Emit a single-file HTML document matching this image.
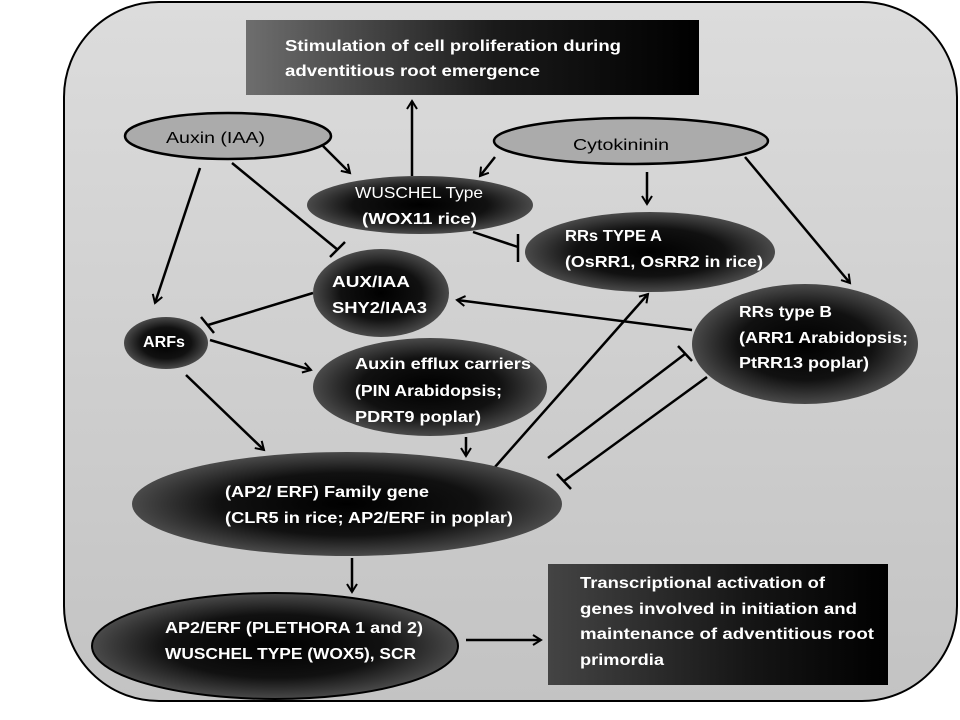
<!DOCTYPE html>
<html><head><meta charset="utf-8"><style>html,body{margin:0;padding:0;background:#fff;width:960px;height:720px;overflow:hidden}</style></head>
<body>
<svg width="960" height="720" viewBox="0 0 960 720" xmlns="http://www.w3.org/2000/svg" font-family="'Liberation Sans', sans-serif">
<defs>
<linearGradient id="bg" x1="0" y1="0" x2="0" y2="1"><stop offset="0" stop-color="#dcdcdc"/><stop offset="1" stop-color="#c3c3c3"/></linearGradient>
<linearGradient id="box" x1="0" y1="0" x2="1" y2="0"><stop offset="0" stop-color="#6e6e6e"/><stop offset="0.55" stop-color="#1a1a1a"/><stop offset="1" stop-color="#000"/></linearGradient>
<linearGradient id="box2" x1="0" y1="0" x2="1" y2="0"><stop offset="0" stop-color="#444"/><stop offset="0.6" stop-color="#151515"/><stop offset="1" stop-color="#000"/></linearGradient>
<radialGradient id="dk" cx="0.5" cy="0.5" r="0.5"><stop offset="0" stop-color="#000"/><stop offset="0.6" stop-color="#111"/><stop offset="1" stop-color="#4a4a4a"/></radialGradient>
<marker id="ar" markerWidth="12" markerHeight="12" refX="9" refY="6" orient="auto" markerUnits="userSpaceOnUse"><path d="M1,1 L9,6 L1,11" fill="none" stroke="#000" stroke-width="2"/></marker>
</defs>
<rect x="64" y="2" width="893" height="699" rx="95" ry="95" fill="url(#bg)" stroke="#000" stroke-width="2"/>
<rect x="246" y="20" width="453" height="75" fill="url(#box)"/>
<rect x="548" y="564" width="340" height="121" fill="url(#box2)"/>

<g stroke="#000" stroke-width="2.5" fill="none">
<line x1="323" y1="146" x2="350" y2="173" marker-end="url(#ar)"/>
<line x1="495" y1="157" x2="480" y2="176" marker-end="url(#ar)"/>
<line x1="412" y1="176" x2="412" y2="101" marker-end="url(#ar)"/>
<line x1="647" y1="172" x2="647" y2="204" marker-end="url(#ar)"/>
<line x1="745" y1="157" x2="850" y2="283" marker-end="url(#ar)"/>
<line x1="473" y1="232" x2="518" y2="247"/><line x1="518" y1="234" x2="518" y2="262"/>
<line x1="232" y1="163" x2="338" y2="250"/><line x1="330" y1="257" x2="345" y2="242"/>
<line x1="200" y1="168" x2="155" y2="303" marker-end="url(#ar)"/>
<line x1="313" y1="293" x2="208" y2="325"/><line x1="201" y1="317" x2="214" y2="333"/>
<line x1="210" y1="340" x2="311" y2="370" marker-end="url(#ar)"/>
<line x1="186" y1="375" x2="264" y2="450" marker-end="url(#ar)"/>
<line x1="692" y1="330" x2="457" y2="300" marker-end="url(#ar)"/>
<line x1="495" y1="467" x2="648" y2="294" marker-end="url(#ar)"/>
<line x1="548" y1="458" x2="685" y2="354"/><line x1="678" y1="346" x2="692" y2="361"/>
<line x1="707" y1="377" x2="564" y2="481"/><line x1="557" y1="474" x2="571" y2="489"/>
<line x1="466" y1="437" x2="466" y2="456" marker-end="url(#ar)"/>
<line x1="352" y1="558" x2="352" y2="592" marker-end="url(#ar)"/>
<line x1="466" y1="640" x2="541" y2="640" marker-end="url(#ar)"/>
</g>

<ellipse cx="228" cy="136" rx="103" ry="23" fill="#ababab" stroke="#000" stroke-width="2.5"/>
<ellipse cx="631" cy="141" rx="137" ry="23" fill="#ababab" stroke="#000" stroke-width="2.5"/>
<ellipse cx="420" cy="205" rx="113" ry="29" fill="url(#dk)"/>
<ellipse cx="650" cy="252" rx="125" ry="40" fill="url(#dk)"/>
<ellipse cx="381" cy="293" rx="68" ry="44" fill="url(#dk)"/>
<ellipse cx="166" cy="343" rx="42" ry="26" fill="url(#dk)"/>
<ellipse cx="430" cy="387" rx="117" ry="49" fill="url(#dk)"/>
<ellipse cx="805" cy="344" rx="113" ry="60" fill="url(#dk)"/>
<ellipse cx="347" cy="504" rx="215" ry="52" fill="url(#dk)"/>
<ellipse cx="275" cy="646" rx="183" ry="53" fill="url(#dk)" stroke="#000" stroke-width="2"/>

<g font-size="16" lengthAdjust="spacingAndGlyphs">
<text x="166" y="143" textLength="99" lengthAdjust="spacingAndGlyphs" fill="#000">Auxin (IAA)</text>
<text x="573" y="150" textLength="96" lengthAdjust="spacingAndGlyphs" fill="#000">Cytokininin</text>
<g fill="#fff">
<text x="355" y="198" textLength="128" lengthAdjust="spacingAndGlyphs">WUSCHEL Type</text>
<g font-weight="bold">
<text x="285" y="51" textLength="336" lengthAdjust="spacingAndGlyphs">Stimulation of cell proliferation during</text>
<text x="285" y="76" textLength="255" lengthAdjust="spacingAndGlyphs">adventitious root emergence</text>
<text x="362" y="224" textLength="115" lengthAdjust="spacingAndGlyphs">(WOX11 rice)</text>
<text x="565" y="241" textLength="97" lengthAdjust="spacingAndGlyphs">RRs TYPE A</text>
<text x="565" y="267" textLength="198" lengthAdjust="spacingAndGlyphs">(OsRR1, OsRR2 in rice)</text>
<text x="332" y="287" textLength="78" lengthAdjust="spacingAndGlyphs">AUX/IAA</text>
<text x="332" y="313" textLength="95" lengthAdjust="spacingAndGlyphs">SHY2/IAA3</text>
<text x="143" y="347" textLength="42" lengthAdjust="spacingAndGlyphs">ARFs</text>
<text x="355" y="369" textLength="176" lengthAdjust="spacingAndGlyphs">Auxin efflux carriers</text>
<text x="355" y="396" textLength="147" lengthAdjust="spacingAndGlyphs">(PIN Arabidopsis;</text>
<text x="355" y="422" textLength="126" lengthAdjust="spacingAndGlyphs">PDRT9 poplar)</text>
<text x="739" y="317" textLength="93" lengthAdjust="spacingAndGlyphs">RRs type  B</text>
<text x="739" y="343" textLength="169" lengthAdjust="spacingAndGlyphs">(ARR1  Arabidopsis;</text>
<text x="739" y="368" textLength="130" lengthAdjust="spacingAndGlyphs">PtRR13 poplar)</text>
<text x="225" y="497" textLength="204" lengthAdjust="spacingAndGlyphs">(AP2/ ERF) Family gene</text>
<text x="225" y="523" textLength="288" lengthAdjust="spacingAndGlyphs">(CLR5 in rice;  AP2/ERF in poplar)</text>
<text x="165" y="633" textLength="258" lengthAdjust="spacingAndGlyphs">AP2/ERF (PLETHORA 1 and 2)</text>
<text x="165" y="659" textLength="251" lengthAdjust="spacingAndGlyphs">WUSCHEL TYPE (WOX5), SCR</text>
<text x="580" y="588" textLength="245" lengthAdjust="spacingAndGlyphs">Transcriptional activation of</text>
<text x="580" y="614" textLength="277" lengthAdjust="spacingAndGlyphs">genes involved in  initiation and</text>
<text x="580" y="639" textLength="294" lengthAdjust="spacingAndGlyphs">maintenance of adventitious root</text>
<text x="580" y="665" textLength="84" lengthAdjust="spacingAndGlyphs">primordia</text>
</g></g></g>
</svg>
</body></html>
